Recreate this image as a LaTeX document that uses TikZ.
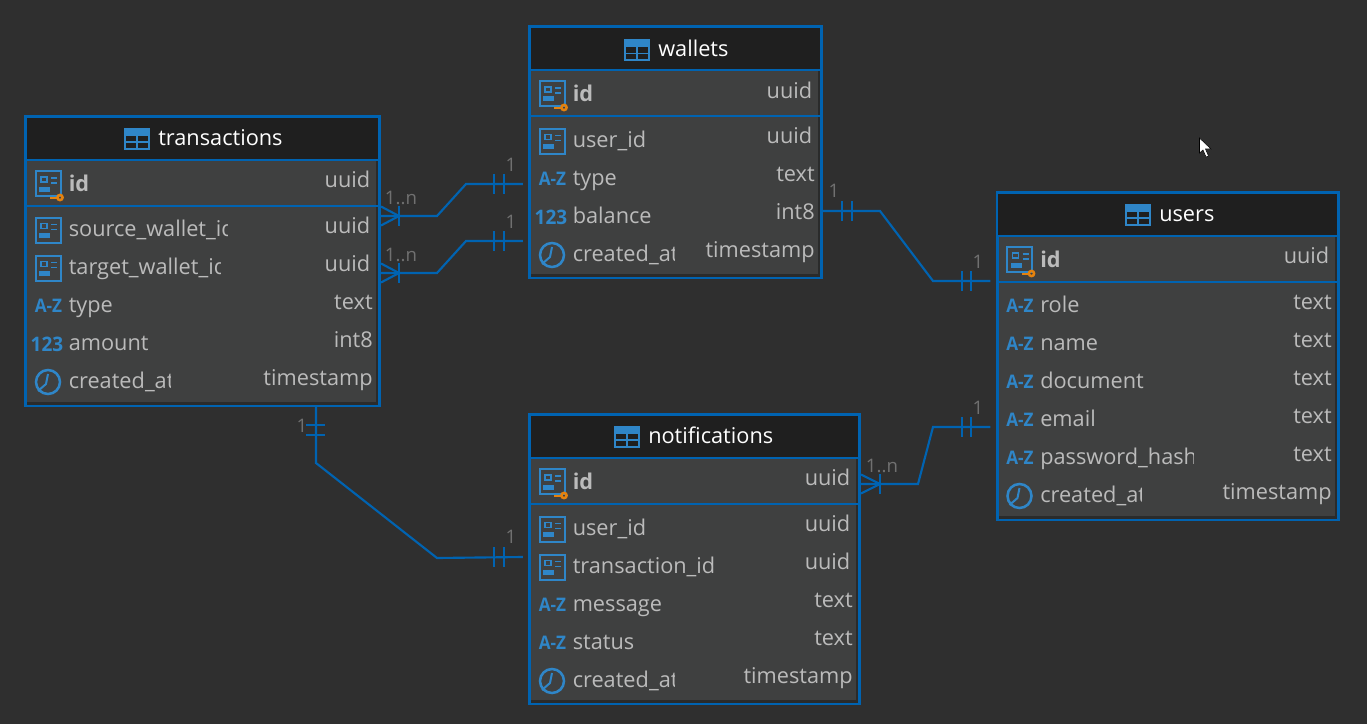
\documentclass[tikz,border=0pt]{standalone}
\usepackage{fontspec}
\setmainfont{Open Sans}
\definecolor{bgc}{HTML}{2F2F2F}
\definecolor{rowc}{HTML}{3F4040}
\definecolor{headc}{HTML}{1F1F1F}
\definecolor{edgec}{HTML}{0063B1}
\definecolor{strip}{HTML}{2A2B2B}
\definecolor{iconc}{HTML}{2F86C8}
\definecolor{keyc}{HTML}{E5820E}
\definecolor{txtc}{HTML}{BBBBBB}
\definecolor{cardc}{HTML}{707070}
\newcommand{\fnt}{\fontsize{16.3pt}{19pt}\selectfont}
\tikzset{
  tablebox/.style={draw=edgec,fill=rowc,line width=2.25pt,inner sep=0pt,rectangle},
  rule/.style={draw=edgec,line width=1.5pt},
  titletext/.style={anchor=base west,inner sep=0pt,text=white,font=\fnt},
  nametext/.style={anchor=base west,inner sep=0pt,text=txtc,font=\fnt},
  idtext/.style={anchor=base west,inner sep=0pt,text=txtc,font=\fnt\bfseries},
  typetext/.style={anchor=base east,inner sep=0pt,text=txtc,font=\fnt},
  icontext/.style={anchor=center,inner sep=0pt,text=iconc},
  iconline/.style={draw=iconc,line width=1.5pt},
  conn/.style={draw=edgec,line width=1.6pt},
  tick/.style={draw=edgec,line width=1.6pt},
  card/.style={anchor=center,inner sep=0pt,text=cardc,font=\fontsize{14pt}{16pt}\selectfont},
}
% card icon centred at x,y
\newcommand{\cardicon}[2]{%
  \draw[iconline] (#1-12.5,#2-12.5) rectangle (#1+12.5,#2+12.5);
  \draw[iconc,line width=1.3pt] (#1-7,#2-6.5) rectangle (#1-1,#2-1.5);
  \fill[iconc] (#1-9,#2+3) rectangle (#1+2,#2+8);
  \draw[iconc,line width=1.2pt] (#1+3,#2-5.5) -- (#1+9,#2-5.5) (#1+3,#2-.5) -- (#1+9,#2-.5);
}
\newcommand{\keyicon}[2]{%
  \draw[draw=keyc,line width=1.9pt] (#1+12,#2+14) circle (2.6);
  \draw[draw=keyc,line width=2.2pt] (#1+9.5,#2+14.5) -- (#1+2,#2+14.5);
}
\newcommand{\azicon}[2]{\node[icontext,font=\fontsize{14pt}{16pt}\selectfont\bfseries,xscale=.92] at (#1+.5,#2) {A-Z};}
\newcommand{\numicon}[2]{\node[icontext,font=\fontsize{15pt}{16pt}\selectfont\bfseries,xscale=.95] at (#1-1,#2) {123};}
\newcommand{\clockicon}[2]{%
  \draw[iconline,line width=1.9pt] (#1,#2) circle (12);
  \draw[iconline] (#1,#2-8) -- (#1-2,#2+2) -- (#1-10,#2+9);
}
\newcommand{\tableicon}[2]{%
  \fill[iconc] (#1-13,#2-10) rectangle (#1+13,#2-3);
  \draw[iconline] (#1-12.2,#2-10) rectangle (#1+12.2,#2+10);
  \draw[iconline,line width=1.2pt] (#1-12,#2+3) -- (#1+12,#2+3) (#1,#2-4) -- (#1,#2+10);
}
% offsets that differ a pixel or so from table to table
\def\nameoff{120}
\def\headoff{0}
% name, L, T(pixel), R, B, icon x
\newcommand{\erdtable}[6]{%
  \def\tL{#2}\def\tT{#3}\def\tR{#4}\def\tB{#5}\def\tN{#1}%
  \node[tablebox,minimum width={(#4-#2)*0.75pt},minimum height={(#5-#3-.5)*0.75pt}]
     (#1) at ({(#2+#4)/2},{(#3+.5+#5)/2}) {};
  \fill[headc] (#2+1,#3+2) rectangle (#4-1,#3+43);
  \fill[strip] (#4-3.5,#3+45) rectangle (#4-1,#5-1);
  \fill[strip] (#2+1.5,#5-3.5) rectangle (#4-1,#5-1);
  \draw[rule] (#2,#3+44) -- (#4,#3+44);
  \draw[rule] (#2,#3+89.5) -- (#4,#3+89.5);
  \tableicon{#6}{#3+23+\headoff}
  \node[titletext] (#1-title) at (#6+21,#3+29+\headoff) {#1};
  \cardicon{#2+22.5}{#3+67.5}
  \keyicon{#2+22.5}{#3+67.5}
  \node[idtext] (#1-id) at (#2+43,#3+75+\headoff*.6) {id};
  \node[typetext] (#1-id-type) at (#4-8.5,#3+71+\headoff) {uuid};
}
\def\uuidword{uuid}
% kind macro, name, type, row index, clip x
\newcommand{\fieldrow}[5]{%
  \pgfmathsetmacro{\by}{\tT+\nameoff+38*#4}
  \pgfmathsetmacro{\ty}{\tT+117+38*#4}
  #1{\tL+22.5}{\by-6}
  \begin{scope}
    \clip (\tL+30,\by-20) rectangle (#5,\by+12);
    \node[nametext] (\tN-#4-name) at (\tL+43,\by) {#2};
  \end{scope}
  \def\thistype{#3}%
  \ifx\thistype\uuidword
    \node[typetext] (\tN-#4-type) at (\tR-8.5,\ty) {#3};
  \else
    \node[typetext] (\tN-#4-type) at (\tR-6,\ty) {#3};
  \fi
}
\newcommand{\twobars}[3]{%
  \draw[tick] (#1,#3-10) -- (#1,#3+10) (#2,#3-10) -- (#2,#3+10);
}
\newcommand{\crow}[3]{% table-side x, bar x, y
  \draw[tick] (#2,#3-10) -- (#2,#3+10);
  \draw[tick] (#1,#3-9.5) -- (#2,#3) -- (#1,#3+9.5);
}
\begin{document}
\begin{tikzpicture}[x=0.75pt,y=-0.75pt]
\useasboundingbox (0,0) rectangle (1367,724);
\fill[bgc] (0,0) rectangle (1367,724);

\erdtable{transactions}{25.5}{116}{379}{405.5}{137}
\fieldrow{\cardicon}{source\_wallet\_id}{uuid}{0}{227}
\fieldrow{\cardicon}{target\_wallet\_id}{uuid}{1}{220}
\fieldrow{\azicon}{type}{text}{2}{300}
\fieldrow{\numicon}{amount}{int8}{3}{300}
\fieldrow{\clockicon}{created\_at}{timestamp}{4}{170}

\def\nameoff{121}
\def\headoff{1.5}
\erdtable{wallets}{529.5}{26}{821}{277.5}{637}
\fieldrow{\cardicon}{user\_id}{uuid}{0}{700}
\fieldrow{\azicon}{type}{text}{1}{700}
\fieldrow{\numicon}{balance}{int8}{2}{700}
\fieldrow{\clockicon}{created\_at}{timestamp}{3}{674}

\def\nameoff{120}
\def\headoff{0}
\erdtable{users}{997}{192}{1338}{519.5}{1138}
\fieldrow{\azicon}{role}{text}{0}{1200}
\fieldrow{\azicon}{name}{text}{1}{1200}
\fieldrow{\azicon}{document}{text}{2}{1200}
\fieldrow{\azicon}{email}{text}{3}{1200}
\fieldrow{\azicon}{password\_hash}{text}{4}{1193}
\fieldrow{\clockicon}{created\_at}{timestamp}{5}{1141}

\def\nameoff{121}
\erdtable{notifications}{529.5}{414}{859}{703.5}{627}
\fieldrow{\cardicon}{user\_id}{uuid}{0}{760}
\fieldrow{\cardicon}{transaction\_id}{uuid}{1}{760}
\fieldrow{\azicon}{message}{text}{2}{760}
\fieldrow{\azicon}{status}{text}{3}{760}
\fieldrow{\clockicon}{created\_at}{timestamp}{4}{674}

% connectors
\coordinate (txA) at (0,216);
\coordinate (wtA) at (0,184);
\coordinate (txB) at (0,273);
\coordinate (wtB) at (0,241);
\coordinate (wtC) at (0,211);
\coordinate (usC) at (0,281);
\coordinate (noD) at (0,484);
\coordinate (usD) at (0,427);
\coordinate (txE) at (316,0);
\coordinate (noE) at (0,557);

\draw[conn] (transactions.east |- txA) -- (437,216) -- (466,184) -- ([xshift=-3.8pt]wallets.west |- wtA);
\draw[conn] (transactions.east |- txB) -- (437,273) -- (466,241) -- ([xshift=-3.8pt]wallets.west |- wtB);
\draw[conn] (wallets.east |- wtC) -- (880,211) -- (933,281) -- ([xshift=-3.8pt]users.west |- usC);
\draw[conn] (notifications.east |- noD) -- (918,484) -- (933,427) -- ([xshift=-3.8pt]users.west |- usD);
\draw[conn] (txE |- transactions.south) -- (316,463) -- (437,558) -- ([xshift=-3.8pt]notifications.west |- noE);

\crow{381}{399}{216}
\crow{381}{399}{273}
\crow{861}{880}{484}
\twobars{494}{504}{184}
\twobars{494}{504}{241}
\twobars{494}{504}{557}
\twobars{842}{852}{211}
\twobars{962}{971}{281}
\twobars{962}{971}{427}
\draw[tick] (306,425) -- (325,425) (306,435) -- (325,435);

\node[card] (c1) at (401,198) {1..n};
\node[card] (c2) at (401,255) {1..n};
\node[card] (c3) at (882,466) {1..n};
\node[card] (c4) at (511,165) {1};
\node[card] (c5) at (511,222) {1};
\node[card] (c6) at (511,537) {1};
\node[card] (c7) at (834,191) {1};
\node[card] (c8) at (978,262) {1};
\node[card] (c9) at (978,408) {1};
\node[card] (c10) at (302,426) {1};

% mouse pointer
\fill[white,draw=black,line width=.4pt] (1199.5,138) -- (1199.5,153) -- (1203,150) -- (1206,157) -- (1208.5,156) -- (1205.5,149) -- (1211,149) -- cycle;
\end{tikzpicture}
\end{document}
